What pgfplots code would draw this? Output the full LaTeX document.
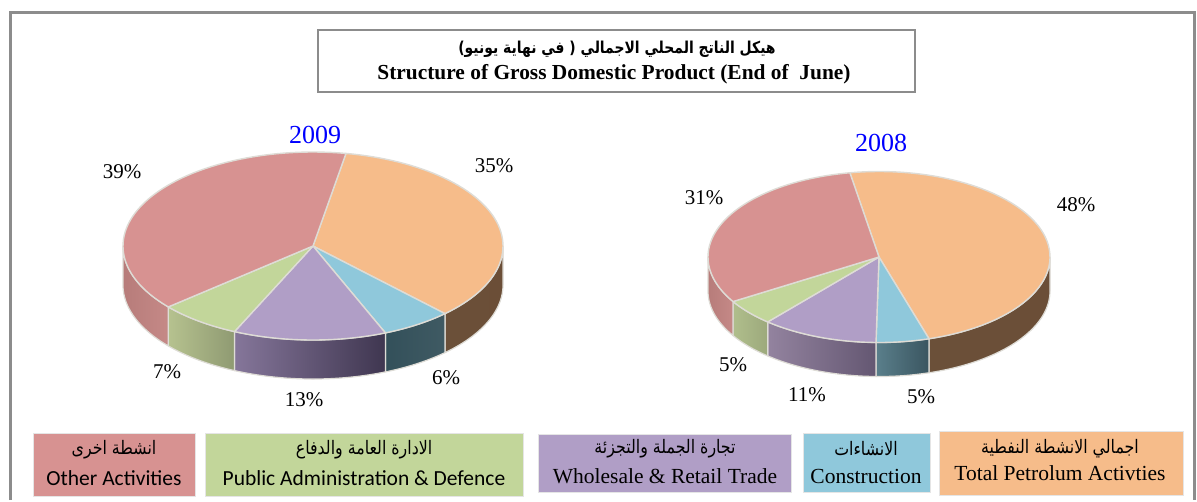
\documentclass[border=0pt]{standalone}
\usepackage{pgfplots}
\usepackage{pgfplotstable}
\usepackage{fontspec}
\pgfplotsset{compat=1.18}
\setmainfont{Liberation Serif}
\newfontfamily\arabicfont[Script=Arabic,FakeStretch=0.85]{DejaVu Sans}
\newfontfamily\calib{Carlito}
\TeXXeTstate=1

% share of each activity, in percent; order is clockwise from the top of the pie
\pgfplotstableread{
activity share
Petroleum 35
Construction 6
Wholesale 13
Public 7
Other 39
}\piea
\pgfplotstableread{
activity share
Petroleum 48
Construction 5
Wholesale 11
Public 5
Other 31
}\pieb

\definecolor{top0}{HTML}{F6BC8A}
\definecolor{top1}{HTML}{8FC8DB}
\definecolor{top2}{HTML}{B09EC6}
\definecolor{top3}{HTML}{C2D69A}
\definecolor{top4}{HTML}{D79291}
\definecolor{edge}{HTML}{DEDCD6}
\definecolor{frame}{HTML}{8C8C8C}

% side shades, 2009
\definecolor{al0}{HTML}{6B5039}\definecolor{ar0}{HTML}{6B4E37}
\definecolor{al1}{HTML}{33505A}\definecolor{ar1}{HTML}{3F5A63}
\definecolor{al2}{HTML}{85769A}\definecolor{ar2}{HTML}{3F3650}
\definecolor{al3}{HTML}{B6C28F}\definecolor{ar3}{HTML}{8F9A72}
\definecolor{al4}{HTML}{B77C7A}\definecolor{ar4}{HTML}{C58987}
% side shades, 2008
\definecolor{bl0}{HTML}{6B5039}\definecolor{br0}{HTML}{6B4E37}
\definecolor{bl1}{HTML}{5A7F8B}\definecolor{br1}{HTML}{3A5560}
\definecolor{bl2}{HTML}{93839F}\definecolor{br2}{HTML}{645772}
\definecolor{bl3}{HTML}{B0BE8C}\definecolor{br3}{HTML}{9CA97C}
\definecolor{bl4}{HTML}{B77C7A}\definecolor{br4}{HTML}{C58987}

% #1 cx #2 cy #3 rx #4 ry #5 from-angle #6 to-angle #7 colour
\newcommand\TopFace[7]{%
  \addplot[fill=#7,draw=edge,line width=1.4pt,line join=round,domain=-1:60,samples=62]
   ({#1+(#3)*ifthenelse(x<-0.5,0,1)*cos((#5)+((#6)-(#5))*max(x,0)/60)},
    {#2-(#4)*ifthenelse(x<-0.5,0,1)*sin((#5)+((#6)-(#5))*max(x,0)/60)}) -- cycle;
}
% #1 cx #2 cy #3 rx #4 ry #5 depth #6 from-angle #7 to-angle #8 left colour #9 right colour
\newcommand\SideFace[9]{%
  \addplot[left color=#8,right color=#9,draw=edge,line width=1.2pt,line join=round,domain=0:121,samples=122]
   ({#1+(#3)*cos((#6)+((#7)-(#6))*ifthenelse(x<60.5,x,121-x)/60)},
    {#2-(#4)*sin((#6)+((#7)-(#6))*ifthenelse(x<60.5,x,121-x)/60)+ifthenelse(x<60.5,0,#5)}) -- cycle;
}
% #1 table #2 cx #3 cy #4 rx #5 ry #6 depth #7 start angle #8 side colour prefix
\newcommand\DrawPie[8]{%
  \pgfmathsetmacro\angA{#7}%
  \pgfplotsforeachungrouped \i in {0,...,4}{%
    \pgfplotstablegetelem{\i}{share}\of{#1}%
    \pgfmathsetmacro\angB{\angA-3.6*\pgfplotsretval}%
    \pgfmathsetmacro\sa{min(\angA,0)}%
    \pgfmathsetmacro\sb{max(\angB,-180)}%
    \pgfmathparse{\sa>\sb ? 1 : 0}%
    \ifnum\pgfmathresult=1
      \edef\next{\noexpand\SideFace{#2}{#3}{#4}{#5}{#6}{\sa}{\sb}{#8l\i}{#8r\i}}\next
    \fi
    \let\angA\angB
  }%
  \pgfmathsetmacro\angA{#7}%
  \pgfplotsforeachungrouped \i in {0,...,4}{%
    \pgfplotstablegetelem{\i}{share}\of{#1}%
    \pgfmathsetmacro\angB{\angA-3.6*\pgfplotsretval}%
    \edef\next{\noexpand\TopFace{#2}{#3}{#4}{#5}{\angA}{\angB}{top\i}}\next
    \let\angA\angB
  }%
}
\newcommand\fs[1]{\fontsize{#1}{#1}\selectfont}
% #1 x0 #2 y0 #3 x1 #4 y1 #5 colour
\newcommand\LBox[5]{\fill[#5,draw=black!10,line width=1pt] (axis cs:#1,#2) rectangle (axis cs:#3,#4);}
% #1 xc #2 y arabic #3 y latin #4 arabic #5 latin
\newcommand\Leg[5]{%
  \node[anchor=center,inner sep=0pt] at (axis cs:#1,#2) {\fs{18.6}\arabicfont #4};
  \node[anchor=center,inner sep=0pt] at (axis cs:#1,#3) {#5};
}
\begin{document}
\begin{tikzpicture}
\begin{axis}[
  hide axis,scale only axis,width=1197pt,height=500pt,
  xmin=0,xmax=1197,ymin=0,ymax=500,y dir=reverse,clip=false]
% whole canvas, so that the page is as large as the reference
\path (axis cs:0,0) rectangle (axis cs:1197,500);
% frame
\draw[frame,line width=3pt] (axis cs:10,500) -- (axis cs:10,12) -- (axis cs:1194,12) -- (axis cs:1194,500);
% title box
\draw[frame,line width=1.8pt,fill=white] (axis cs:318,30) rectangle (axis cs:915,92);
\node[inner sep=0pt] at (axis cs:617,49) {\fs{16.4}\bfseries\arabicfont\beginR هيكل الناتج المحلي الاجمالي ( في نهاية يونيو)\endR};
\node[inner sep=0pt] at (axis cs:614,74) {\fs{21.4}\bfseries Structure of Gross Domestic Product (End of\ \ June)};
% pies
\DrawPie{\piea}{313}{246}{190}{94}{39}{80}{a}
\DrawPie{\pieb}{879}{257}{171}{85.5}{34}{99.8}{b}
% years
\node[blue,inner sep=0pt] at (axis cs:315,135) {\fs{26}2009};
\node[blue,inner sep=0pt] at (axis cs:881,143) {\fs{26}2008};
% percentages
\node[inner sep=0pt] at (axis cs:122,172) {\fs{21}39\%};
\node[inner sep=0pt] at (axis cs:494,166) {\fs{21}35\%};
\node[inner sep=0pt] at (axis cs:167,372) {\fs{21}7\%};
\node[inner sep=0pt] at (axis cs:304,400) {\fs{21}13\%};
\node[inner sep=0pt] at (axis cs:446,378) {\fs{21}6\%};
\node[inner sep=0pt] at (axis cs:704,198) {\fs{21}31\%};
\node[inner sep=0pt] at (axis cs:1076,205) {\fs{21}48\%};
\node[inner sep=0pt] at (axis cs:733,365) {\fs{21}5\%};
\node[inner sep=0pt] at (axis cs:807,395) {\fs{21}11\%};
\node[inner sep=0pt] at (axis cs:921,397) {\fs{21}5\%};
% legend
\LBox{33}{433}{195}{496}{top4}
\LBox{205}{433}{523}{496}{top3}
\LBox{538}{434}{791}{492}{top2}
\LBox{803}{433}{930}{492}{top1}
\LBox{939}{431}{1183}{495}{top0}
\Leg{114}{450}{478}{\beginR انشطة اخرى\endR}{\calib\fs{21.5}Other Activities}
\Leg{364}{450}{478}{\beginR الادارة العامة والدفاع\endR}{\calib\fs{21.5}Public Administration \& Defence}
\Leg{665}{449}{476}{\beginR تجارة الجملة والتجزئة\endR}{\fs{21.5}Wholesale \& Retail Trade}
\Leg{866}{449}{476}{\beginR الانشاءات\endR}{\fs{21.5}Construction}
\Leg{1060}{449}{473}{\beginR اجمالي الانشطة النفطية\endR}{\fs{21.5}Total Petrolum Activties}
\end{axis}
\end{tikzpicture}
\end{document}
